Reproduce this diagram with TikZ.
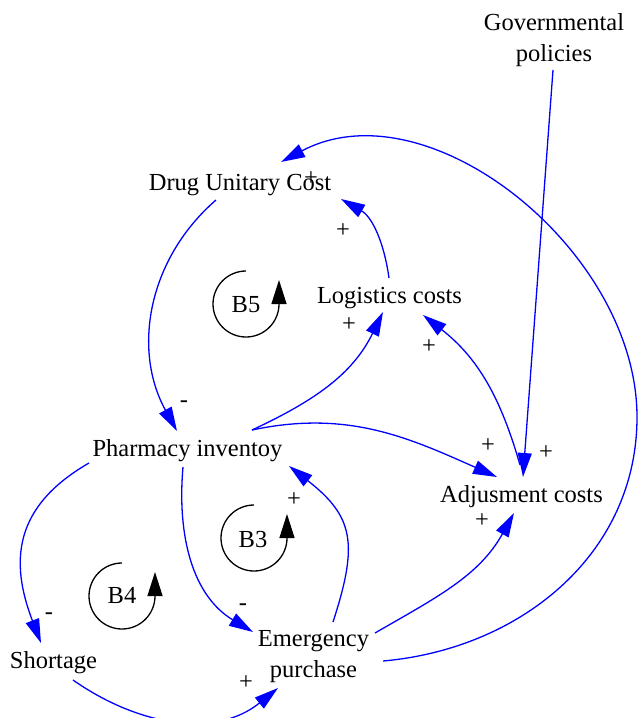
\documentclass[tikz,border=0pt]{standalone}
\usepackage{fontspec}
\setmainfont{Liberation Serif}
\usetikzlibrary{arrows.meta}
\newcommand{\varfont}{\fontsize{24.5}{31}\selectfont}

\tikzset{
  var/.style={font=\varfont, inner sep=0pt, anchor=base},
  twoline/.style={font=\varfont, inner sep=0pt, align=center},
  sign/.style={font=\varfont, inner sep=0pt},
  link/.style={draw=blue, line width=1.3pt, -{Triangle[length=24pt,width=14pt]}},
  loopmark/.style={line width=1.3pt, -{Triangle[length=24pt,width=15pt]}},
}

\begin{document}
\begin{tikzpicture}[x=1pt,y=1pt]
\useasboundingbox (0,0) rectangle (638,-718);

% Define nodes

\node[twoline]  (gp)  at (554,-40)    {Governmental\\policies};
\node[var]      (duc) at (240,-190)   {Drug Unitary Cost};
\node[var]      (lc)  at (389.5,-303) {Logistics costs};
\node[var]      (pi)  at (187.5,-456) {Pharmacy inventoy};
\node[var]      (ac)  at (521.5,-502) {Adjusment costs};
\node[var]      (sh)  at (53.5,-668)  {Shortage};
\node[twoline]  (ep)  at (313.5,-657) {Emergency\\purchase};

% Loop markers

\node[var]  (b5) at (246,-312) {B5};
\node[var]  (b3) at (253,-547) {B3};
\node[var]  (b4) at (122,-603) {B4};
\draw[loopmark] (246,-271) arc[start angle=90, end angle=360, radius=33] -- ++(0,24);
\draw[loopmark] (254,-505) arc[start angle=90, end angle=360, radius=33] -- ++(0,24);
\draw[loopmark] (122,-563) arc[start angle=90, end angle=360, radius=33] -- ++(0,24);

% Connect the nodes

\coordinate (rim) at (637,-417);
\draw[link] ([shift={(-1,-30)}]gp.center) -- ([shift={(1.5,25)}]ac.base) ; %
\draw[link] ([shift={(69.5,-4)}]ep.center) to[out=5,in=-90] (rim)
            to[out=90,in=28,looseness=0.97] ([shift={(41,28)}]duc.base) ; %
\draw[link] ([shift={(-0.5,25)}]lc.base) to[out=98,in=-30] ([shift={(101,-9)}]duc.base) ; %
\draw[link] ([shift={(-1.5,37)}]ac.base) to[out=106,in=-38] ([shift={(33.5,-12)}]lc.base) ; %
\draw[link] ([shift={(-24,-10)}]duc.base) to[out=-139,in=119] ([shift={(-10.5,25)}]pi.base) ; %
\draw[link] ([shift={(64.5,26)}]pi.base) to[out=25,in=-116] ([shift={(-6.5,-9)}]lc.base) ; %
\draw[link] ([shift={(64.5,26)}]pi.base) to[out=12,in=156] ([shift={(-24.5,25)}]ac.base) ; %
\draw[link] ([shift={(-98.5,-7)}]pi.base) to[out=-150,in=111,looseness=1.2] ([shift={(-12.5,25)}]sh.base) ; %
\draw[link] ([shift={(-4.5,-11)}]pi.base) to[out=-95,in=149] ([shift={(-60.5,25)}]ep.center) ; %
\draw[link] ([shift={(19.5,35)}]ep.center) to[out=72,in=-38,looseness=1.3] ([shift={(101.5,-10)}]pi.base) ; %
\draw[link] ([shift={(61.5,24)}]ep.center) to[out=30,in=-119] ([shift={(-7.5,-11)}]ac.base) ; %
\draw[link] ([shift={(19.5,-12)}]sh.base) to[out=-35,in=-141] ([shift={(-35.5,-31)}]ep.center) ; %

% Polarities

\node[sign] (s1)  at (311,-179) {+};
\node[sign] (s2)  at (343,-231) {+};
\node[sign] (s3)  at (349,-325) {+};
\node[sign] (s4)  at (429,-347) {+};
\node[sign] (s5)  at (488,-446) {+};
\node[sign] (s6)  at (546,-453) {+};
\node[sign] (s7)  at (482,-521) {+};
\node[sign] (s8)  at (294,-500) {+};
\node[sign] (s9)  at (246,-683) {+};
\node[sign] (s10) at (184,-404) {-};
\node[sign] (s11) at (49,-616)  {-};
\node[sign] (s12) at (243,-607) {-};

\end{tikzpicture}
\end{document}
